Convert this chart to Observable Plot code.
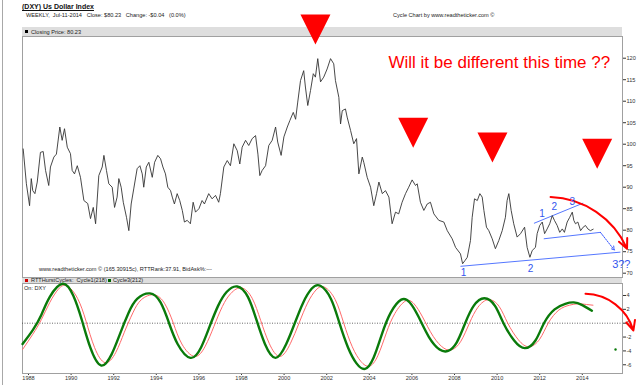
<!DOCTYPE html>
<html><head><meta charset="utf-8">
<script src="https://cdn.jsdelivr.net/npm/d3@7"></script>
<script src="https://cdn.jsdelivr.net/npm/@observablehq/plot@0.6"></script>
<style>
body{margin:0;background:#fff;}
#wrap{position:relative;width:640px;height:385px;overflow:hidden;background:#fff;font-family:"Liberation Sans",Arial,sans-serif;}
.abs{position:absolute;white-space:nowrap;line-height:1;}
.sm{font-size:5.6px;color:#222;}
.sq{position:absolute;width:3px;height:3px;}
#upper,#lower{position:absolute;left:0;}
#upper{top:0;} #lower{top:283px;}
</style></head>
<body><div id="wrap">
<div class="abs" style="left:2px;top:0;width:1px;height:385px;background:#a8a8a8"></div>
<div class="abs" style="left:22px;top:3px;font-size:7px;font-weight:bold;text-decoration:underline;color:#111">(DXY) Us Dollar Index</div>
<div class="abs sm" style="left:26px;top:13px">WEEKLY,&nbsp; Jul-11-2014&nbsp;&nbsp; Close: $80.23&nbsp;&nbsp; Change: -$0.04&nbsp;&nbsp; (0.0%)</div>
<div class="abs sm" style="left:393px;top:13px">Cycle Chart by www.readtheticker.com ©</div>
<div class="abs" style="left:22px;top:27px;width:600px;height:9px;background:#dedede"></div>
<div class="sq" style="left:25px;top:30px;background:#000"></div>
<div class="abs sm" style="left:31px;top:29.5px">Closing Price: 80.23</div>
<div class="abs sm" style="left:39px;top:267px">www.readtheticker.com © (165.30915c), RTTRank:37.91, BidAsk%:---</div>
<div class="abs" style="left:22px;top:277px;width:600px;height:6px;background:#dedede"></div>
<div class="sq" style="left:25px;top:278.5px;background:#d00000"></div>
<div class="abs sm" style="left:31px;top:277.5px">RTTHurstCycles:&nbsp; Cycle1(218)</div>
<div class="sq" style="left:108px;top:278.5px;background:#006400"></div>
<div class="abs sm" style="left:113px;top:277.5px">Cycle3(212)</div>
<div class="abs sm" style="left:24px;top:286px">On: DXY</div>
<div id="upper"></div>
<div id="lower"></div>
</div>
<script>
// Weekly close (sampled), [decimal year, close]
const closeSeries = [
[1987.75,98.9],[1987.9,90.8],[1988.05,85.7],[1988.13,92],[1988.2,89.2],[1988.3,88.5],[1988.41,91.2],[1988.56,98.1],[1988.69,98.3],[1988.8,93.9],[1988.95,90.4],
[1989.03,94.7],[1989.19,97],[1989.31,97.7],[1989.47,104],[1989.58,100.9],[1989.69,103.6],[1989.82,99.3],[1989.97,97.8],
[1990.05,93.9],[1990.16,93.1],[1990.29,95],[1990.44,92.3],[1990.6,86.9],[1990.78,86.2],[1990.91,82.7],
[1991.04,85.3],[1991.15,81.5],[1991.3,92.7],[1991.46,94.7],[1991.54,97.4],[1991.66,93.9],[1991.77,90.8],[1991.93,90],
[1992.04,85.3],[1992.16,87.7],[1992.24,92],[1992.35,90],[1992.45,86.5],[1992.6,83],[1992.71,79.9],[1992.82,86.1],[1992.94,89.6],
[1993.1,94.3],[1993.23,95],[1993.34,93.1],[1993.41,90],[1993.53,94.7],[1993.65,95.8],[1993.81,92.3],[1993.92,95.8],
[1994.07,97.4],[1994.2,96.6],[1994.31,94.7],[1994.43,93.1],[1994.54,90],[1994.67,89.2],[1994.75,87.7],[1994.85,86.1],[1994.98,88.5],
[1995.1,86.9],[1995.22,84.6],[1995.32,81.9],[1995.45,82.3],[1995.6,81.5],[1995.73,86.5],[1995.84,84.2],
[1996.0,85],[1996.15,86.9],[1996.26,86.1],[1996.46,88.5],[1996.62,87.3],[1996.78,88.1],[1996.93,86.5],
[1997.01,88.5],[1997.17,94.7],[1997.33,96.2],[1997.48,95],[1997.64,100.1],[1997.8,98.5],[1997.92,95.4],
[1998.03,99.3],[1998.19,100.9],[1998.34,99.7],[1998.5,101.3],[1998.66,102],[1998.77,97.7],[1998.86,92.7],[1998.97,93.9],
[1999.13,95],[1999.28,99.7],[1999.44,100.9],[1999.6,104],[1999.7,100.5],[1999.86,97.4],[1999.99,101.7],
[2000.15,104],[2000.27,105.5],[2000.43,107.4],[2000.54,105.8],[2000.64,109.8],[2000.77,114.8],[2000.92,117.1],
[2001.0,113.3],[2001.11,109],[2001.24,112.5],[2001.37,116.4],[2001.47,115.6],[2001.58,119.9],[2001.71,114.5],[2001.86,115.6],
[2002.02,117.5],[2002.18,119.9],[2002.33,118.7],[2002.41,114.8],[2002.57,110.9],[2002.65,104.7],[2002.73,107.8],[2002.88,108.2],[2002.96,106.3],
[2003.12,103.2],[2003.27,100.1],[2003.4,101.3],[2003.51,93.1],[2003.67,97],[2003.74,95.8],[2003.9,92.3],
[2004.06,90],[2004.21,85.7],[2004.34,88.5],[2004.45,91.2],[2004.61,88.5],[2004.76,89.2],[2004.92,87.7],
[2005.07,81.5],[2005.23,84.2],[2005.38,83.8],[2005.54,86.5],[2005.7,88.5],[2005.85,90],
[2006.01,91.7],[2006.17,90.4],[2006.25,90.8],[2006.4,86.5],[2006.56,84.6],[2006.72,86.1],[2006.87,86.5],
[2007.03,83.8],[2007.26,82.3],[2007.5,81.9],[2007.66,79.9],[2007.89,78],
[2008.05,76],[2008.28,74.5],[2008.38,72.2],[2008.5,73],[2008.6,73.7],[2008.75,77.6],[2008.83,83],[2008.94,87.3],
[2009.07,86.9],[2009.19,88.5],[2009.3,87.7],[2009.38,84.6],[2009.5,80.7],[2009.61,79.9],[2009.77,78],[2009.92,75.7],
[2010.08,77.6],[2010.24,79.9],[2010.39,83],[2010.47,86.9],[2010.55,88.5],[2010.66,84.6],[2010.78,81.5],[2010.94,78.4],
[2011.1,79.2],[2011.29,80.7],[2011.41,76],[2011.54,73.7],[2011.65,75.3],[2011.8,76],[2011.88,79.2],
[2012.0,81.1],[2012.12,81.9],[2012.23,79.2],[2012.35,80.3],[2012.47,81.5],[2012.59,83.4],[2012.69,82.3],[2012.82,81.1],[2012.94,79.5],
[2013.06,80.3],[2013.16,79.5],[2013.29,81.9],[2013.41,83],[2013.53,84.2],[2013.6,82.3],[2013.68,81.5],[2013.79,81.9],[2013.92,79.9],
[2014.04,80.7],[2014.15,81.1],[2014.26,80.3],[2014.38,79.9],[2014.51,80.23]
];
// Cycle1(218) - red
const cycle1 = [
[1987.72,-3.8],[1988.2,-1.6],[1988.6,0.5],[1989.0,3.0],[1989.4,4.9],[1989.8,5.4],[1990.3,3.6],[1990.7,0.3],[1991.1,-3.5],[1991.6,-5.7],
[1992.1,-4.2],[1992.5,-1.3],[1992.9,1.5],[1993.3,3.4],[1993.9,4.1],[1994.4,2.8],[1994.8,0.0],[1995.2,-3.0],[1995.8,-4.8],
[1996.3,-3.3],[1996.7,-0.5],[1997.1,2.4],[1997.5,4.3],[1998.0,5.1],[1998.5,3.6],[1998.9,0.4],[1999.3,-2.9],[1999.8,-4.8],
[2000.3,-2.9],[2000.7,0.0],[2001.1,2.9],[2001.5,4.8],[2001.9,5.2],[2002.4,3.4],[2002.8,0.0],[2003.2,-3.4],[2003.6,-5.5],[2004.0,-6.2],
[2004.4,-4.7],[2004.8,-1.4],[2005.2,1.4],[2005.7,3.2],[2006.1,2.8],[2006.5,0.9],[2007.0,-1.9],[2007.5,-3.6],[2007.9,-3.8],
[2008.3,-2.6],[2008.7,0.0],[2009.1,2.3],[2009.6,3.4],[2010.1,2.4],[2010.5,0.0],[2011.0,-2.4],[2011.5,-3.4],[2012.0,-2.3],
[2012.4,0.0],[2012.9,1.9],[2013.4,2.6],[2013.8,2.8],[2014.2,2.7],[2014.5,2.6]
];
// Cycle3(212) - green
const cycle3 = [
[1987.72,-3.0],[1988.2,-1.0],[1988.6,1.2],[1989.0,3.8],[1989.6,5.7],[1990.1,4.0],[1990.5,0.5],[1990.9,-3.5],[1991.4,-6.1],
[1991.9,-4.5],[1992.3,-1.5],[1992.7,1.5],[1993.1,3.5],[1993.7,4.3],[1994.2,3.0],[1994.6,0.0],[1995.0,-3.0],[1995.6,-5.0],
[1996.1,-3.5],[1996.5,-0.5],[1996.9,2.5],[1997.3,4.5],[1997.8,5.3],[1998.3,3.8],[1998.7,0.5],[1999.1,-3.0],[1999.6,-5.0],
[2000.1,-3.0],[2000.5,0.0],[2000.9,3.0],[2001.3,5.0],[2001.7,5.4],[2002.2,3.5],[2002.6,0.0],[2003.0,-3.5],[2003.4,-5.8],[2003.8,-6.6],
[2004.2,-5.0],[2004.6,-1.5],[2005.0,1.5],[2005.5,3.4],[2005.9,3.0],[2006.3,1.0],[2006.8,-2.0],[2007.3,-3.8],[2007.7,-4.0],
[2008.1,-2.8],[2008.5,0.0],[2008.9,2.5],[2009.4,3.6],[2009.9,2.5],[2010.3,0.0],[2010.8,-2.5],[2011.3,-3.6],[2011.8,-2.5],
[2012.2,0.0],[2012.7,2.0],[2013.2,2.8],[2013.6,3.0],[2014.0,2.6],[2014.45,1.8]
];
const priceTicks = [70,75,80,85,90,95,100,105,110,115,120];
const cycleTicks = [-6,-4,-2,0,2,4];
const yearTicks = [1988,1990,1992,1994,1996,1998,2000,2002,2004,2006,2008,2010,2012,2014];
// annotations (data units)
const warnTriangles = [[2001.47,126.67],[2006.06,102.65],[2009.78,99.23],[2014.70,97.77]];
const waveLabels = [[2012.11,83.81,"1"],[2012.69,85.35,"2"],[2013.53,86.51,"3"],[2008.42,70.16,"1"],[2011.57,71.1,"2"]];
const endLabel = [[2015.4,72.0,"3??"]];
const trendLines = [[2011.73,81.6,2014.04,86.3],[2012.19,78.0,2014.85,79.5],[2008.28,71.6,2015.79,74.9]];
const blueArrow = [[2014.85,79.5,2015.5,75.4]];
const redArcUpper = [[2012.51,87.7,2016.1,75.7]];
const redArcLower = [[2014.15,4.24,2016.4,-1.05]];
const greenMark = [[2015.56,-3.8]];
const question = [[2004.9,118.9,"Will it be different this time ??"]];

const xDomain = [1987.718, 2015.887];
const font = "'Liberation Sans', Arial, sans-serif";
const downTri = {draw(ctx, size){const r=Math.sqrt(size/Math.PI);ctx.moveTo(-r,-r);ctx.lineTo(r,-r);ctx.lineTo(0,r);ctx.closePath();}};

const upper = Plot.plot({
  width: 640, height: 277,
  marginLeft: 22, marginRight: 18, marginTop: 36, marginBottom: 0,
  style: {background: "transparent", fontFamily: font, fontSize: "5.6px", color: "#333", overflow: "visible"},
  x: {domain: xDomain, axis: null},
  y: {domain: [69, 125.05], axis: "right", ticks: priceTicks, tickSize: 3, tickPadding: 1, label: null, tickFormat: d => String(d)},
  marks: [
    Plot.frame({stroke: "#a0a0a0"}),
    Plot.link(trendLines, {x1: d=>d[0], y1: d=>d[1], x2: d=>d[2], y2: d=>d[3], stroke: "#5577ff", strokeWidth: 1}),
    Plot.line(closeSeries, {x: d=>d[0], y: d=>d[1], stroke: "#333", strokeWidth: 0.9}),
    Plot.arrow(blueArrow, {x1: d=>d[0], y1: d=>d[1], x2: d=>d[2], y2: d=>d[3], stroke: "#3355ff", strokeWidth: 1, strokeDasharray: "1.5,1.2", headLength: 6}),
    Plot.arrow(redArcUpper, {x1: d=>d[0], y1: d=>d[1], x2: d=>d[2], y2: d=>d[3], bend: 32, stroke: "#ff0000", strokeWidth: 2, headLength: 8, headAngle: 50}),
    Plot.dot(warnTriangles, {x: d=>d[0], y: d=>d[1], r: 15, symbol: downTri, fill: "#ff0000", stroke: "none"}),
    Plot.text(question, {x: d=>d[0], y: d=>d[1], text: d=>d[2], textAnchor: "start", fill: "#ff0000", fontSize: 17, fontFamily: font}),
    Plot.text(waveLabels, {x: d=>d[0], y: d=>d[1], text: d=>d[2], fill: "#3355ee", fontSize: 10, fontFamily: font}),
    Plot.text(endLabel, {x: d=>d[0], y: d=>d[1], text: d=>d[2], textAnchor: "start", fill: "#3355ee", fontSize: 11, fontFamily: font})
  ]
});
document.getElementById("upper").appendChild(upper);

const lower = Plot.plot({
  width: 640, height: 102,
  marginLeft: 22, marginRight: 18, marginTop: 0, marginBottom: 12,
  style: {background: "transparent", fontFamily: font, fontSize: "5.6px", color: "#333", overflow: "visible"},
  x: {domain: xDomain, ticks: yearTicks, tickFormat: d => String(d), tickSize: 2, tickPadding: 1, label: null},
  y: {domain: [-7.26, 5.73], axis: "right", ticks: cycleTicks, tickSize: 3, tickPadding: 1, label: null, tickFormat: d => String(d)},
  marks: [
    Plot.frame({stroke: "#a0a0a0"}),
    Plot.ruleY([0], {stroke: "#444", strokeDasharray: "1,1.5", strokeWidth: 0.8}),
    Plot.line(cycle1, {x: d=>d[0], y: d=>d[1], stroke: "#ff6a6a", strokeWidth: 1, curve: "natural"}),
    Plot.line(cycle3, {x: d=>d[0], y: d=>d[1], stroke: "#0a7a0a", strokeWidth: 2.4, curve: "natural"}),
    Plot.dot(greenMark, {x: d=>d[0], y: d=>d[1], r: 1.2, fill: "#0a7a0a", stroke: "none"}),
    Plot.arrow(redArcLower, {x1: d=>d[0], y1: d=>d[1], x2: d=>d[2], y2: d=>d[3], bend: 36, stroke: "#ff0000", strokeWidth: 2, headLength: 8, headAngle: 50})
  ]
});
document.getElementById("lower").appendChild(lower);
</script>
</body></html>
